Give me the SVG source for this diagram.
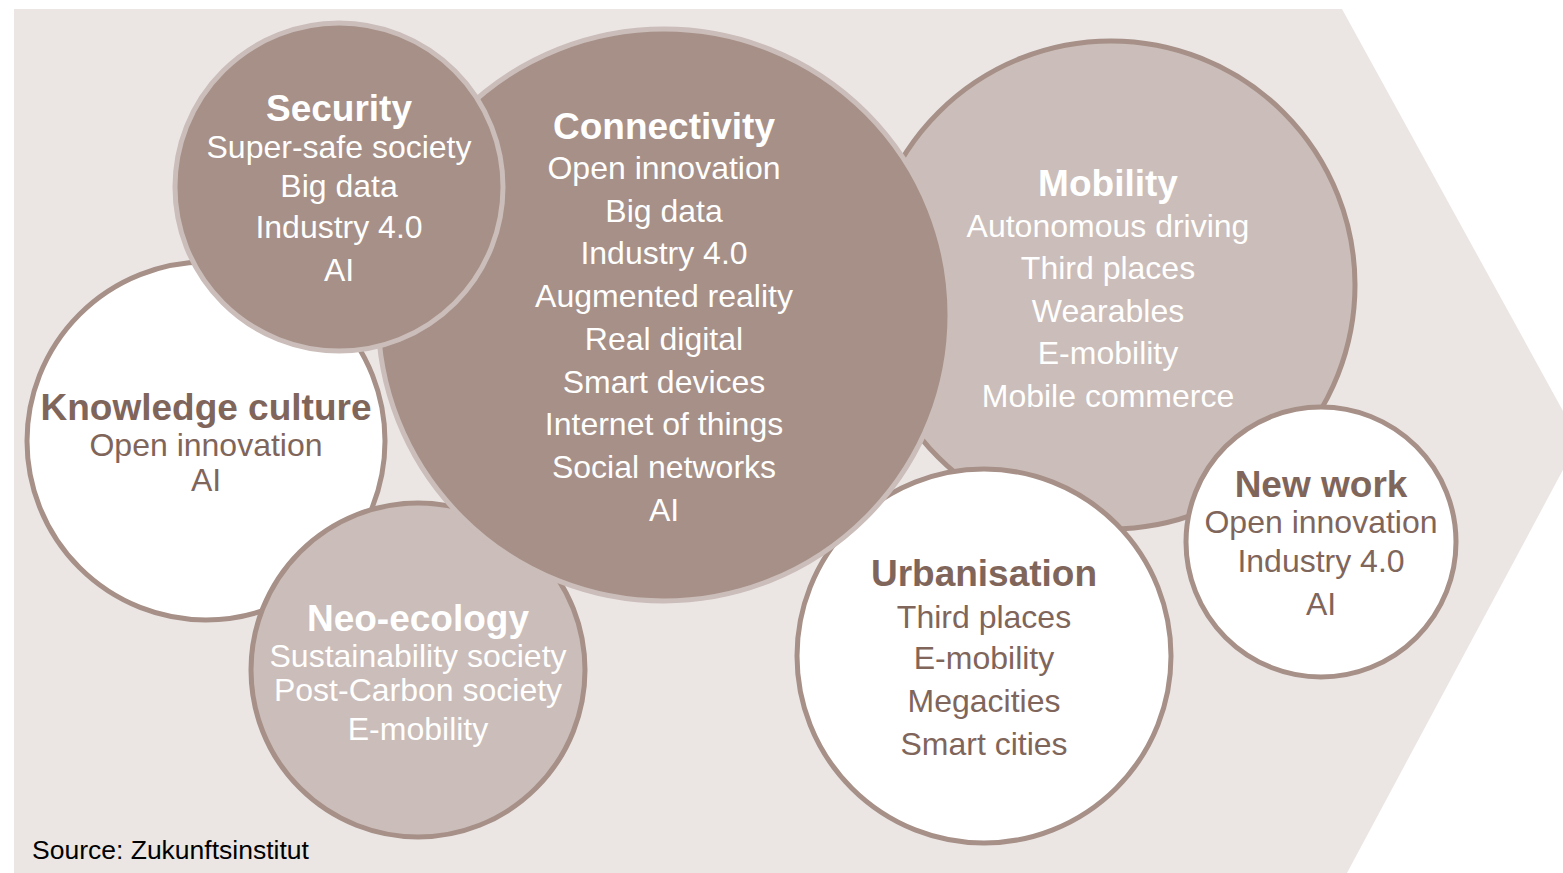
<svg xmlns="http://www.w3.org/2000/svg" width="1563" height="873" viewBox="0 0 1563 873">
  <style>
    .bg { fill: #ebe6e4; }
    .dark { fill: #a69088; stroke: #cbbdb9; stroke-width: 5; }
    .light { fill: #cbbdb9; stroke: #a69088; stroke-width: 5; }
    .white { fill: #ffffff; stroke: #a69088; stroke-width: 5; }
    text { font-family: "Liberation Sans", Arial, sans-serif; text-anchor: middle; }
    .t { font-size: 37px; font-weight: bold; }
    .i { font-size: 32px; }
    .on-dark { fill: #ffffff; }
    .on-white { fill: #80655b; }
    .src { font-size: 26.5px; fill: #000000; text-anchor: start; }
  </style>

  <!-- arrow-shaped backdrop -->
  <polygon class="bg" points="14,9 1342,9 1579,440 1347,873 14,873"/>

  <g id="knowledge-culture">
    <circle class="white" cx="206" cy="441" r="179"/>
    <text class="t on-white" x="206" y="420">Knowledge culture</text>
    <text class="i on-white" x="206" y="456">Open innovation</text>
    <text class="i on-white" x="206" y="491">AI</text>
  </g>

  <g id="neo-ecology">
    <circle class="light" cx="418" cy="670" r="167"/>
    <text class="t on-dark" x="418" y="631">Neo-ecology</text>
    <text class="i on-dark" x="418" y="667">Sustainability society</text>
    <text class="i on-dark" x="418" y="701">Post-Carbon society</text>
    <text class="i on-dark" x="418" y="740">E-mobility</text>
  </g>

  <g id="mobility">
    <circle class="light" cx="1111" cy="285" r="244"/>
    <text class="t on-dark" x="1108" y="196">Mobility</text>
    <text class="i on-dark" x="1108" y="237">Autonomous driving</text>
    <text class="i on-dark" x="1108" y="279">Third places</text>
    <text class="i on-dark" x="1108" y="322">Wearables</text>
    <text class="i on-dark" x="1108" y="364">E-mobility</text>
    <text class="i on-dark" x="1108" y="407">Mobile commerce</text>
  </g>

  <g id="urbanisation">
    <circle class="white" cx="984" cy="656" r="187"/>
    <text class="t on-white" x="984" y="586">Urbanisation</text>
    <text class="i on-white" x="984" y="628">Third places</text>
    <text class="i on-white" x="984" y="669">E-mobility</text>
    <text class="i on-white" x="984" y="712">Megacities</text>
    <text class="i on-white" x="984" y="755">Smart cities</text>
  </g>

  <g id="new-work">
    <circle class="white" cx="1321" cy="542" r="135"/>
    <text class="t on-white" x="1321" y="497">New work</text>
    <text class="i on-white" x="1321" y="533">Open innovation</text>
    <text class="i on-white" x="1321" y="572">Industry 4.0</text>
    <text class="i on-white" x="1321" y="615">AI</text>
  </g>

  <g id="connectivity">
    <circle class="dark" cx="664" cy="315" r="286"/>
    <text class="t on-dark" x="664" y="139">Connectivity</text>
    <text class="i on-dark" x="664" y="179">Open innovation</text>
    <text class="i on-dark" x="664" y="222">Big data</text>
    <text class="i on-dark" x="664" y="264">Industry 4.0</text>
    <text class="i on-dark" x="664" y="307">Augmented reality</text>
    <text class="i on-dark" x="664" y="350">Real digital</text>
    <text class="i on-dark" x="664" y="393">Smart devices</text>
    <text class="i on-dark" x="664" y="435">Internet of things</text>
    <text class="i on-dark" x="664" y="478">Social networks</text>
    <text class="i on-dark" x="664" y="521">AI</text>
  </g>

  <g id="security">
    <circle class="dark" cx="339" cy="187" r="164"/>
    <text class="t on-dark" x="339" y="121">Security</text>
    <text class="i on-dark" x="339" y="158">Super-safe society</text>
    <text class="i on-dark" x="339" y="197">Big data</text>
    <text class="i on-dark" x="339" y="238">Industry 4.0</text>
    <text class="i on-dark" x="339" y="281">AI</text>
  </g>

  <!-- no connectors in this chart -->
  <g id="connectors"/>

  <text class="src" x="32" y="859">Source: Zukunftsinstitut</text>
</svg>
